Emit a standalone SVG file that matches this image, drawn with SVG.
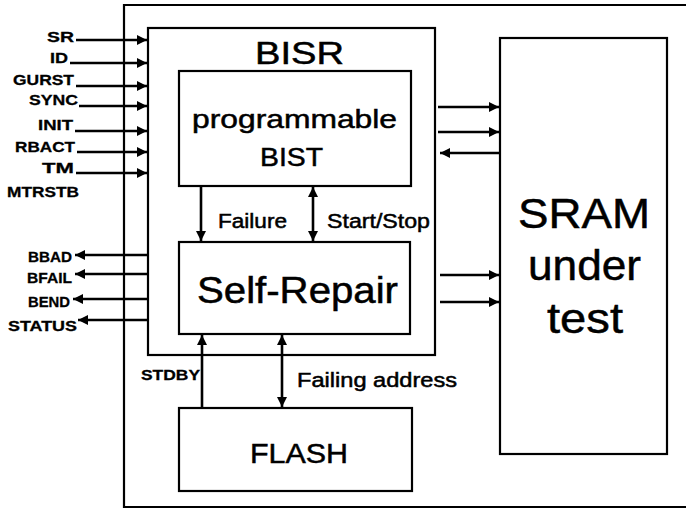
<svg xmlns="http://www.w3.org/2000/svg" width="686" height="509" viewBox="0 0 686 509">
<defs>
<marker id="ah" viewBox="0 0 10 10" refX="10" refY="5" markerWidth="10" markerHeight="10" markerUnits="userSpaceOnUse" orient="auto-start-reverse">
<path d="M0,0 L10,5 L0,10 Z" fill="#000"/>
</marker>
</defs>
<style>
.box{fill:#fff;stroke:#000;stroke-width:2.2}
.ln{fill:none;stroke:#000;stroke-width:2.2}
.a{fill:none;stroke:#000;stroke-width:2.6;marker-end:url(#ah)}
.d{fill:none;stroke:#000;stroke-width:2.6;marker-end:url(#ah);marker-start:url(#ah)}
text{font-family:"Liberation Sans",Arial,sans-serif;fill:#000;stroke:#000;stroke-width:0.5}
.sig{font-size:15px;font-weight:bold;stroke-width:0.3}
.lbl{font-size:20px}
</style>
<rect width="686" height="509" fill="#fff"/>
<g id="system">
<path class="ln" d="M686,5 H124 V507 H686"/>
</g>
<g id="bisr">
<rect class="box" x="148" y="28" width="287" height="327"/>
<text x="255" y="64" font-size="31" textLength="89" lengthAdjust="spacingAndGlyphs">BISR</text>
</g>
<g id="bist">
<rect class="box" x="179" y="71" width="232" height="115"/>
<text x="192" y="128" font-size="26.5" textLength="205" lengthAdjust="spacingAndGlyphs">programmable</text>
<text x="260" y="166" font-size="26.5" textLength="63" lengthAdjust="spacingAndGlyphs">BIST</text>
</g>
<g id="selfrepair">
<rect class="box" x="179" y="242" width="231" height="92"/>
<text x="197" y="303" font-size="36" textLength="201" lengthAdjust="spacingAndGlyphs">Self-Repair</text>
</g>
<g id="flash">
<rect class="box" x="179" y="408" width="233" height="83"/>
<text x="250" y="463" font-size="28" textLength="98" lengthAdjust="spacingAndGlyphs">FLASH</text>
</g>
<g id="sram">
<rect class="box" x="500" y="38" width="167" height="416"/>
<text x="518" y="228" font-size="43" textLength="132" lengthAdjust="spacingAndGlyphs">SRAM</text>
<text x="528" y="280" font-size="43" textLength="113" lengthAdjust="spacingAndGlyphs">under</text>
<text x="547" y="333" font-size="43" textLength="76" lengthAdjust="spacingAndGlyphs">test</text>
</g>
<g id="signals">
<text class="sig" x="47" y="42" textLength="27" lengthAdjust="spacingAndGlyphs">SR</text>
<text class="sig" x="50" y="63" textLength="18" lengthAdjust="spacingAndGlyphs">ID</text>
<text class="sig" x="13" y="85" textLength="61" lengthAdjust="spacingAndGlyphs">GURST</text>
<text class="sig" x="29" y="105" textLength="49" lengthAdjust="spacingAndGlyphs">SYNC</text>
<text class="sig" x="38" y="130" textLength="35" lengthAdjust="spacingAndGlyphs">INIT</text>
<text class="sig" x="15" y="152" textLength="60" lengthAdjust="spacingAndGlyphs">RBACT</text>
<text class="sig" x="42" y="173" textLength="32" lengthAdjust="spacingAndGlyphs">TM</text>
<text class="sig" x="7" y="197" textLength="72" lengthAdjust="spacingAndGlyphs">MTRSTB</text>
<text class="sig" x="28" y="262" textLength="44" lengthAdjust="spacingAndGlyphs">BBAD</text>
<text class="sig" x="27" y="283" textLength="45" lengthAdjust="spacingAndGlyphs">BFAIL</text>
<text class="sig" x="28" y="307" textLength="42" lengthAdjust="spacingAndGlyphs">BEND</text>
<text class="sig" x="8" y="331" textLength="69" lengthAdjust="spacingAndGlyphs">STATUS</text>
<text class="sig" x="141" y="380" font-size="14" textLength="59" lengthAdjust="spacingAndGlyphs">STDBY</text>
</g>
<g id="labels">
<text class="lbl" x="218" y="228" textLength="69" lengthAdjust="spacingAndGlyphs">Failure</text>
<text class="lbl" x="327" y="228" textLength="103" lengthAdjust="spacingAndGlyphs">Start/Stop</text>
<text class="lbl" x="297" y="387" textLength="160" lengthAdjust="spacingAndGlyphs">Failing address</text>
</g>
<g id="connectors">
<path class="a" d="M76,40 H147"/>
<path class="a" d="M70,63 H147"/>
<path class="a" d="M76,86 H147"/>
<path class="a" d="M79,106 H147"/>
<path class="a" d="M75,131 H147"/>
<path class="a" d="M77,152 H147"/>
<path class="a" d="M76,173 H147"/>
<path class="a" d="M148,255 H75"/>
<path class="a" d="M148,274 H75"/>
<path class="a" d="M148,299 H73"/>
<path class="a" d="M148,320 H78"/>
<path class="a" d="M201,186 V241"/>
<path class="d" d="M313,187 V241"/>
<path class="a" d="M202,408 V335"/>
<path class="d" d="M282,335 V407"/>
<path class="a" d="M438,107 H499"/>
<path class="a" d="M438,132 H499"/>
<path class="a" d="M500,153 H440"/>
<path class="a" d="M440,275 H499"/>
<path class="a" d="M440,302 H499"/>
</g>
</svg>
